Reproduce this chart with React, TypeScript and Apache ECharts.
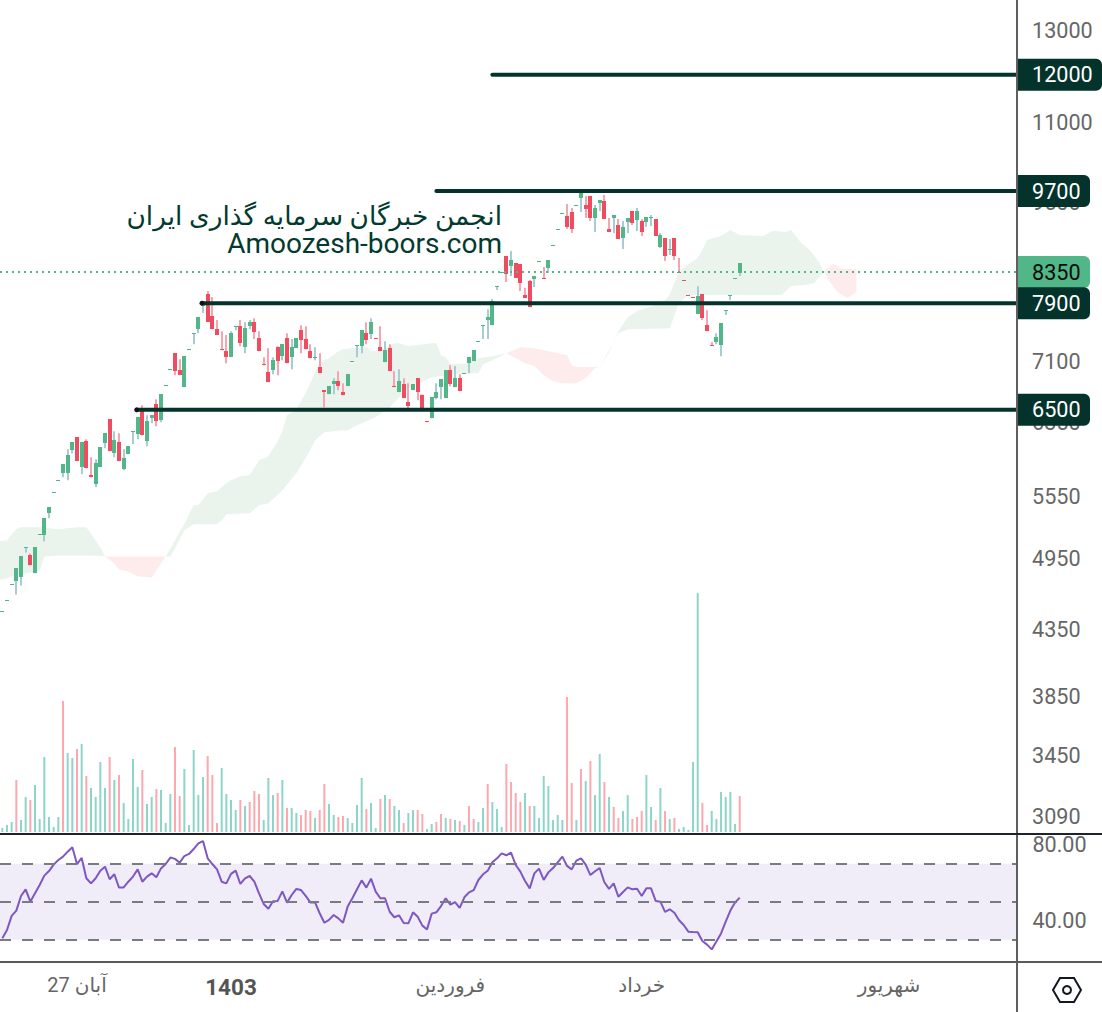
import React, { useEffect, useRef } from "react";
import * as echarts from "echarts";

const opens = [4484,4575,4712,4739,4774,5042,4970,4810,5164,5157,5369,5577,5701,5776,5776,6025,6170,5840,6125,5755,
5661,5840,6103,6377,5993,6114,5819,5982,6237,6204,6483,6125,6388,6555,6365,6785,6986,7196,6976,6762,
7246,7462,7520,7856,8018,7701,7520,7249,7223,7144,7558,7561,7276,7561,7617,7397,7053,6950,6976,7276,
7157,7397,7144,7263,7506,7384,7223,7142,7015,6725,6676,6799,6837,6700,6775,7089,7300,7289,7465,7452,
7397,7276,7079,7263,6775,6700,6799,6579,6725,6874,6664,6354,6388,6627,6762,6627,6976,6762,6874,6935,
7066,7092,7353,7572,7645,7575,8132,8345,8596,8440,8486,8470,8003,8211,8241,8514,8256,8408,8768,9028,
9296,9249,9317,9433,9559,9437,9594,9215,9472,9507,9031,9215,9098,8883,9147,9334,9181,9164,9147,9230,
9198,8739,8883,8704,8883,8350,8229,8006,7977,7730,8018,7575,7306,7343,7303,7783,8000,8253,8333];
const closes = [4488,4579,4716,4854,4961,5046,4880,5044,5168,5320,5428,5581,5705,5873,5970,6114,5905,6114,5830,5734,
5884,6058,6216,6014,6136,5905,5938,6069,6241,6400,6193,6354,6424,6354,6676,6790,6992,6963,6912,7157,
7252,7468,7687,7860,7617,7520,7438,7236,7144,7465,7564,7329,7533,7617,7479,7223,7040,6824,7105,7092,
7316,7066,7276,7397,7370,7249,7131,7146,6938,6700,6775,6837,6775,6664,6925,7095,7306,7506,7370,7617,
7384,7223,7236,6963,6762,6837,6627,6531,6799,6700,6495,6342,6639,6700,6861,6976,6799,6874,6712,6941,
7144,7236,7359,7578,7687,7916,8138,8351,8317,8533,8256,8181,7959,7829,8287,8520,8241,8533,8774,9034,
9304,9065,9031,9441,9648,9368,9215,9385,9524,9198,8982,9266,8867,9065,9215,9130,9334,8982,9232,9234,
8917,8933,8596,8710,8596,8345,8223,8000,7971,7988,7673,7492,7300,7411,7603,7789,8006,8259,8486];
const highs = [4488,4579,4716,4854,4961,5046,4989,5044,5168,5320,5428,5581,5705,5873,6036,6114,6170,6114,6147,5948,
5927,6058,6216,6377,6239,6216,6036,6069,6241,6400,6543,6424,6424,6615,6676,6790,6992,7196,7118,7157,
7252,7468,7687,7872,8062,7974,7645,7492,7438,7492,7564,7645,7617,7645,7673,7492,7144,7263,7144,7289,
7316,7465,7384,7397,7575,7561,7316,7276,7196,6725,6775,6874,6963,6812,6925,7095,7306,7506,7617,7673,
7397,7561,7356,7316,6963,6989,6874,6812,6799,6874,6676,6354,6639,6812,6861,6976,7040,7028,6925,6941,
7144,7236,7359,7578,7800,7945,8138,8351,8596,8675,8486,8470,8107,8226,8287,8520,8424,8533,8774,9034,
9304,9455,9385,9441,9648,9594,9594,9437,9524,9610,9215,9266,9198,9164,9215,9334,9385,9198,9232,9266,
9198,8966,8883,8867,8883,8564,8229,8006,7977,8135,8018,7786,7343,7465,7603,7789,8006,8259,8486];
const lows = [4484,4575,4712,4628,4705,4998,4880,4810,5164,5100,5320,5577,5701,5734,5703,5993,5905,5766,5830,5734,
5630,5840,6047,6014,5948,5905,5808,5982,6092,6147,6193,6069,6331,6296,6342,6785,6986,6912,6912,6762,
7246,7316,7465,7744,7617,7520,7438,7236,7066,7144,7506,7289,7196,7520,7384,7223,7040,6824,6925,6912,
7105,7066,6989,7263,7196,7249,7131,7105,6938,6519,6676,6676,6725,6664,6775,7089,7144,7196,7316,7384,
7384,7223,7079,6963,6762,6700,6627,6471,6725,6603,6495,6342,6388,6615,6615,6627,6775,6762,6712,6935,
6938,7092,7353,7384,7384,7575,8077,8345,8196,8287,8256,8062,7959,7829,8122,8514,8241,8333,8768,9028,
9296,9031,8966,9433,9317,9215,9164,8982,9334,9198,8982,8966,8867,8707,8966,9098,8998,8917,9065,9081,
8917,8723,8517,8612,8533,8345,8223,8000,7971,7730,7645,7492,7300,7316,7157,7716,7930,8253,8287];

const volumes = [12,21,30,156,36,105,96,141,39,225,45,15,45,393,237,222,249,264,168,132,
105,210,132,225,156,171,87,39,219,135,186,84,105,129,126,27,114,255,108,189,
21,246,111,165,228,171,27,192,114,96,66,96,78,90,123,114,36,162,111,117,
156,72,72,57,51,66,63,42,66,144,84,51,45,48,42,27,81,162,69,87,
12,99,111,99,78,66,27,57,66,66,54,9,24,30,54,42,39,36,33,21,
78,39,30,72,144,90,69,15,204,150,117,90,117,78,78,42,168,138,36,51,
36,405,147,36,189,153,213,111,234,150,105,75,42,63,111,39,45,63,171,75,
36,132,63,39,42,9,15,6,210,717,87,21,63,39,120,105,120,24,108];
const volumeUp = [1,1,1,0,1,1,0,1,1,1,1,1,1,0,1,1,0,1,0,1,
1,1,1,0,1,0,1,1,1,1,0,1,1,0,1,1,1,0,0,1,
1,1,1,1,0,0,0,1,1,1,1,0,1,0,0,0,1,1,1,0,
1,0,1,1,0,0,0,1,0,0,1,1,0,0,1,1,1,1,0,1,
1,0,1,0,1,1,0,1,1,0,0,1,1,0,0,1,0,1,0,1,
0,0,1,1,0,1,1,1,0,0,0,0,1,0,1,1,1,1,1,1,
1,0,0,1,0,1,0,1,1,0,1,0,0,1,1,0,0,0,1,1,
0,1,0,1,0,1,1,1,1,1,0,0,1,1,1,1,1,1,0];

const rsi = [30.7,35.1,42.5,45.3,53.0,56.5,50.0,54.4,58.8,63.7,66.1,69.5,71.9,73.7,76.3,78.6,69.8,73.0,62.3,59.6,
62.3,66.3,68.4,61.8,64.4,57.4,57.5,60.5,63.2,67.0,60.5,63.2,64.9,62.8,67.5,69.8,73.2,72.5,70.5,74.0,
75.1,77.7,80.7,81.9,72.8,69.8,67.0,60.5,59.6,64.6,66.3,59.3,62.3,63.5,60.5,54.4,48.8,46.3,50.2,50.4,
55.4,49.5,53.5,56.7,56.1,53.0,49.6,49.6,43.9,38.9,40.4,43.0,41.2,38.9,47.4,51.8,56.5,61.2,57.4,62.1,
55.3,51.8,51.8,44.7,41.8,42.8,38.8,38.6,44.4,42.1,37.4,35.4,43.7,44.4,47.7,51.8,48.4,49.8,46.7,52.3,
54.9,56.1,61.4,64.4,66.3,70.7,72.8,75.4,74.4,75.8,69.3,65.8,60.9,57.0,64.9,67.4,61.4,65.4,67.7,70.7,
73.7,68.8,67.0,71.6,72.8,69.5,64.0,66.0,67.7,60.2,56.7,59.6,52.6,55.1,57.5,56.5,56.8,53.0,57.0,57.0,
50.4,50.0,44.6,46.0,44.2,40.2,37.7,34.2,34.0,33.9,29.3,27.4,24.9,29.0,33.3,39.5,45.3,49.5,52.1];

// Ichimoku cloud outlines: slot index and price, running along the top then back along the bottom
const cloudGreen1Idx = [-1,1,2,3,4,8,12,16,18,19,21,22, 22,18,12,9,8,4,3,2,1,-1];
const cloudGreen1Price = [5100,5109,5166,5214,5233,5233,5214,5233,5233,5175,5044,4965, 4965,4970,4970,4961,4836,4801,4792,4783,4766,4750];
const cloudRed1Idx = [22,35, 35,32,29,27,25,24];
const cloudRed1Price = [4961,4961, 4961,4774,4783,4827,4845,4898];
const cloudGreen2Idx = [35,37,38,39,40,41,42,44,46,48,49,51,53,54,55,57,59,60,61,63,65,67,68,70,72,73,78,79,81,82,84,85,87,92,93,94,95,96,100,102,105,108,
105,103,102,99,92,87,85,83,80,76,74,73,69,67,65,63,60,57,55,53,48,47,46,41,39,37,36];
const cloudGreen2Price = [4961,5109,5185,5262,5359,5448,5448,5569,5589,5672,5703,5745,5755,5830,5916,5959,6125,6239,6424,6495,6688,6950,7079,7131,7223,7249,7289,7223,7236,7263,7329,7329,7289,7329,7329,7170,7144,7053,7066,7131,7157,7196,
7105,7053,6938,6938,6887,6750,6639,6519,6400,6307,6250,6250,6227,6136,5938,5776,5599,5468,5448,5369,5359,5300,5262,5262,5204,5035,4961];
const cloudRed2Idx = [108,111,114,118,121,122,123,128, 127,125,123,120,118,116,114,112];
const cloudRed2Price = [7196,7276,7263,7210,7170,7040,7015,7015, 7002,6874,6812,6812,6837,6912,7028,7066];
const cloudGreen3Idx = [128,130,132,134,136,140,142,143,145,147,149,150,151,154,156,158,163,165,168,169,171,173,175,176, 174,172,169,167,147,145,143,134,132,130];
const cloudGreen3Price = [7015,7210,7492,7687,7772,7858,7930,8003,8362,8470,8565,8691,8851,8917,9015,8933,8917,8998,8982,9015,8819,8691,8500,8347, 8181,8152,8137,8003,8003,7887,7533,7520,7465,7236];
const cloudRed3Idx = [176,178,180,183,183,181,179,177];
const cloudRed3Price = [8362,8470,8393,8393,8048,7959,8048,8226];

const priceTicks = [3090,3450,3850,4350,4950,5550,6350,7100,9500,11000,13000];
const levelPrices = [12000,9700,7900,6500];
const levelStartIdx = [105,93,43,29];
const levelHasDot = [false,false,true,true];
const lastPrice = 8350;

const xLabelIdx = [16,49,96,137,190];
const xLabelText = ["آبان 27","1403","فروردین","خرداد","شهریور"];
const rsiBands = [70,50,30];
const rsiTicks = [40,80];

const SLOTS = 218;
const slotIndex = Array.from({ length: SLOTS }, (_, i) => String(i));
const FONT = "Roboto, 'DejaVu Sans', sans-serif";
const DARK = "#03332b";
const GREEN = "#52b788";
const RED = "#ef4d5f";
const WICK_GREEN = "#a7cdd3";
const WICK_RED = "#f7a4b1";
const CLOUD_GREEN = "#eaf3ec";
const CLOUD_RED = "#feecec";
const NUDGE = 1;

const clouds = [
  { idx: cloudGreen1Idx, price: cloudGreen1Price, color: CLOUD_GREEN },
  { idx: cloudRed1Idx, price: cloudRed1Price, color: CLOUD_RED },
  { idx: cloudGreen2Idx, price: cloudGreen2Price, color: CLOUD_GREEN },
  { idx: cloudRed2Idx, price: cloudRed2Price, color: CLOUD_RED },
  { idx: cloudGreen3Idx, price: cloudGreen3Price, color: CLOUD_GREEN },
  { idx: cloudRed3Idx, price: cloudRed3Price, color: CLOUD_RED },
];

function labelText(text: string, x: number, y: number, fill: string) {
  return {
    type: "text",
    style: {
      text, x, y, fill,
      font: `21.6px ${FONT}`,
      align: "left",
      verticalAlign: "middle",
      textAlign: "left",
      textVerticalAlign: "middle",
    },
  };
}

function buildOption() {
  return {
    animation: false,
    backgroundColor: "#ffffff",
    textStyle: { fontFamily: FONT },
    grid: [
      { left: 0, top: 0, width: 1017.4, height: 833 },
      { left: 0, top: 593, width: 1017.4, height: 239 },
      { left: 0, top: 834, width: 1017.4, height: 128 },
    ],
    xAxis: [
      { type: "category", gridIndex: 0, data: slotIndex, show: false },
      { type: "category", gridIndex: 1, data: slotIndex, show: false },
      {
        type: "category",
        gridIndex: 2,
        data: slotIndex,
        axisLine: { show: false },
        axisTick: { show: false },
        splitLine: { show: false },
        axisLabel: {
          show: true,
          margin: 13,
          interval: (i: number) => xLabelIdx.includes(i),
          color: "#666666",
          fontFamily: FONT,
          fontSize: 20,
          formatter: (_v: string, i: number) => {
            const k = xLabelIdx.indexOf(i);
            if (k < 0) return "";
            return xLabelText[k] === "1403" ? `{b|${xLabelText[k]}}` : xLabelText[k];
          },
          rich: { b: { fontWeight: "bold", fontSize: 22.5, fontFamily: FONT, color: "#555555" } },
        },
      },
    ],
    yAxis: [
      { type: "log", gridIndex: 0, min: 2991, max: 13733, show: false },
      { type: "value", gridIndex: 1, min: 0, max: 717, show: false },
      {
        type: "value",
        gridIndex: 2,
        min: 18.25,
        max: 85.6,
        position: "right",
        axisLine: { show: false },
        axisTick: { show: false },
        splitLine: { show: false },
        axisLabel: {
          show: true,
          customValues: rsiTicks,
          margin: 15,
          color: "#666666",
          fontFamily: FONT,
          fontSize: 21.6,
          padding: [2, 0, 0, 0],
          formatter: (v: number) => v.toFixed(2),
        },
      },
    ],
    series: [
      {
        type: "custom",
        name: "cloud",
        xAxisIndex: 0,
        yAxisIndex: 0,
        z: 1,
        clip: true,
        encode: { x: 0, y: 1 },
        data: clouds.map((c) => [c.idx[0], c.price[0]]),
        renderItem: (params: any, api: any) => {
          const c = clouds[params.dataIndex];
          const points = c.idx.map((x, k) => api.coord([x, c.price[k]]));
          return { type: "polygon", shape: { points }, style: { fill: c.color } };
        },
      },
      {
        type: "bar",
        name: "volume",
        xAxisIndex: 1,
        yAxisIndex: 1,
        z: 2,
        barWidth: 2,
        data: volumes.map((v, i) => ({
          value: v,
          itemStyle: { color: volumeUp[i] ? "#8dd5c8" : "#fda7ae" },
        })),
      },
      {
        type: "custom",
        name: "candles",
        xAxisIndex: 0,
        yAxisIndex: 0,
        z: 3,
        encode: { x: 0, y: [1, 2, 3, 4] },
        data: opens.map((o, i) => [i, o, closes[i], highs[i], lows[i]]),
        renderItem: (_params: any, api: any) => {
          const i = api.value(0);
          const o = api.value(1);
          const c = api.value(2);
          const up = c >= o;
          const cx = Math.round(api.coord([i, o])[0]);
          const yo = api.coord([i, o])[1];
          const yc = api.coord([i, c])[1];
          const yh = api.coord([i, api.value(3)])[1];
          const yl = api.coord([i, api.value(4)])[1];
          const top = Math.round(Math.min(yo, yc));
          const height = Math.max(1, Math.round(Math.abs(yo - yc)));
          return {
            type: "group",
            children: [
              { type: "rect", shape: { x: cx - 1, y: yh, width: 2, height: yl - yh }, style: { fill: up ? WICK_GREEN : WICK_RED } },
              { type: "rect", shape: { x: cx - 2, y: top, width: 4, height }, style: { fill: up ? GREEN : RED } },
            ],
          };
        },
      },
      {
        type: "custom",
        name: "last price line",
        xAxisIndex: 0,
        yAxisIndex: 0,
        z: 5,
        encode: { x: 0, y: 1 },
        data: [[0, lastPrice]],
        renderItem: (params: any, api: any) => {
          const y = api.coord([0, api.value(1)])[1];
          return {
            type: "line",
            shape: { x1: 0, y1: y, x2: params.coordSys.x + params.coordSys.width, y2: y },
            style: { stroke: GREEN, lineWidth: 2, lineDash: [2, 4], fill: null },
          };
        },
      },
      {
        type: "custom",
        name: "levels",
        xAxisIndex: 0,
        yAxisIndex: 0,
        z: 6,
        encode: { x: 0, y: 1 },
        data: levelPrices.map((p, k) => [levelStartIdx[k], p]),
        renderItem: (params: any, api: any) => {
          const [x, yRaw] = api.coord([api.value(0), api.value(1)]);
          const y = yRaw + NUDGE;
          const children: any[] = [
            {
              type: "line",
              shape: { x1: x, y1: y, x2: params.coordSys.x + params.coordSys.width, y2: y },
              style: { stroke: DARK, lineWidth: 4, lineCap: "round", fill: null },
            },
          ];
          if (levelHasDot[params.dataIndex]) {
            children.push({ type: "circle", shape: { cx: x - 1, cy: y, r: 2.5 }, style: { fill: "#111111" } });
          }
          return { type: "group", children };
        },
      },
      {
        type: "custom",
        name: "price ticks",
        xAxisIndex: 0,
        yAxisIndex: 0,
        z: 7,
        encode: { x: 0, y: 1 },
        data: priceTicks.map((p) => [0, p]),
        renderItem: (_params: any, api: any) => {
          const v = api.value(1);
          return labelText(String(v), 1032, api.coord([0, v])[1] + NUDGE, "#666666");
        },
      },
      {
        type: "custom",
        name: "price tags",
        xAxisIndex: 0,
        yAxisIndex: 0,
        z: 8,
        encode: { x: 0, y: 1 },
        data: [[0, lastPrice], ...levelPrices.map((p) => [0, p])],
        renderItem: (_params: any, api: any) => {
          const v = api.value(1);
          const isLast = v === lastPrice;
          const y = api.coord([0, v])[1] + (isLast ? 0 : NUDGE);
          const w = String(v).length === 5 ? 85 : 73;
          return {
            type: "group",
            children: [
              {
                type: "rect",
                shape: { x: 1017, y: y - 16, width: w, height: 32, r: [0, 6, 6, 0] },
                style: { fill: isLast ? GREEN : DARK },
              },
              labelText(String(v), 1032, y + (isLast ? NUDGE : 0), isLast ? "#0a0a0a" : "#ffffff"),
            ],
          };
        },
      },
      {
        type: "line",
        name: "RSI",
        xAxisIndex: 2,
        yAxisIndex: 2,
        z: 4,
        data: rsi,
        showSymbol: false,
        symbol: "none",
        lineStyle: { color: "#7e57c2", width: 2 },
        itemStyle: { color: "#7e57c2" },
        markArea: {
          silent: true,
          itemStyle: { color: "#f0ecf8" },
          data: [[{ yAxis: rsiBands[0] }, { yAxis: rsiBands[2] }]],
        },
        markLine: {
          silent: true,
          symbol: "none",
          label: { show: false },
          lineStyle: { color: "#787b86", width: 2, type: [11, 11] },
          data: rsiBands.map((b) => ({ yAxis: b })),
        },
      },
    ],
    graphic: [
      {
        type: "text",
        z: 20,
        x: 502,
        y: 216,
        style: {
          text: "انجمن خبرگان سرمایه گذاری ایران",
          fill: "#033a30",
          font: `26.4px ${FONT}`,
          textAlign: "right",
          textVerticalAlign: "middle",
        },
      },
      {
        type: "text",
        z: 20,
        x: 502,
        y: 243,
        style: {
          text: "Amoozesh-boors.com",
          fill: "#033a30",
          font: `28px ${FONT}`,
          textAlign: "right",
          textVerticalAlign: "middle",
        },
      },
      { type: "line", z: 15, shape: { x1: 1017, y1: 0, x2: 1017, y2: 1012 }, style: { stroke: "#5f5f5f", lineWidth: 2 } },
      { type: "line", z: 15, shape: { x1: 0, y1: 834, x2: 1102, y2: 834 }, style: { stroke: "#1e222d", lineWidth: 2 } },
      { type: "line", z: 15, shape: { x1: 0, y1: 962, x2: 1102, y2: 962 }, style: { stroke: "#5a5a5a", lineWidth: 2 } },
      {
        type: "polygon",
        z: 15,
        shape: { points: [[1060, 978], [1074, 978], [1081, 990], [1074, 1002], [1060, 1002], [1053, 990]] },
        style: { fill: "none", stroke: "#131722", lineWidth: 2 },
      },
      { type: "circle", z: 15, shape: { cx: 1067, cy: 990, r: 4 }, style: { fill: "none", stroke: "#131722", lineWidth: 2 } },
    ],
  };
}

export default function App() {
  const ref = useRef<HTMLDivElement>(null);
  useEffect(() => {
    const chart = echarts.init(ref.current!, undefined, { renderer: "svg" });
    chart.setOption(buildOption() as any);
    return () => chart.dispose();
  }, []);
  return <div ref={ref} style={{ position: "absolute", left: 0, top: 0, width: 1102, height: 1012 }} />;
}
